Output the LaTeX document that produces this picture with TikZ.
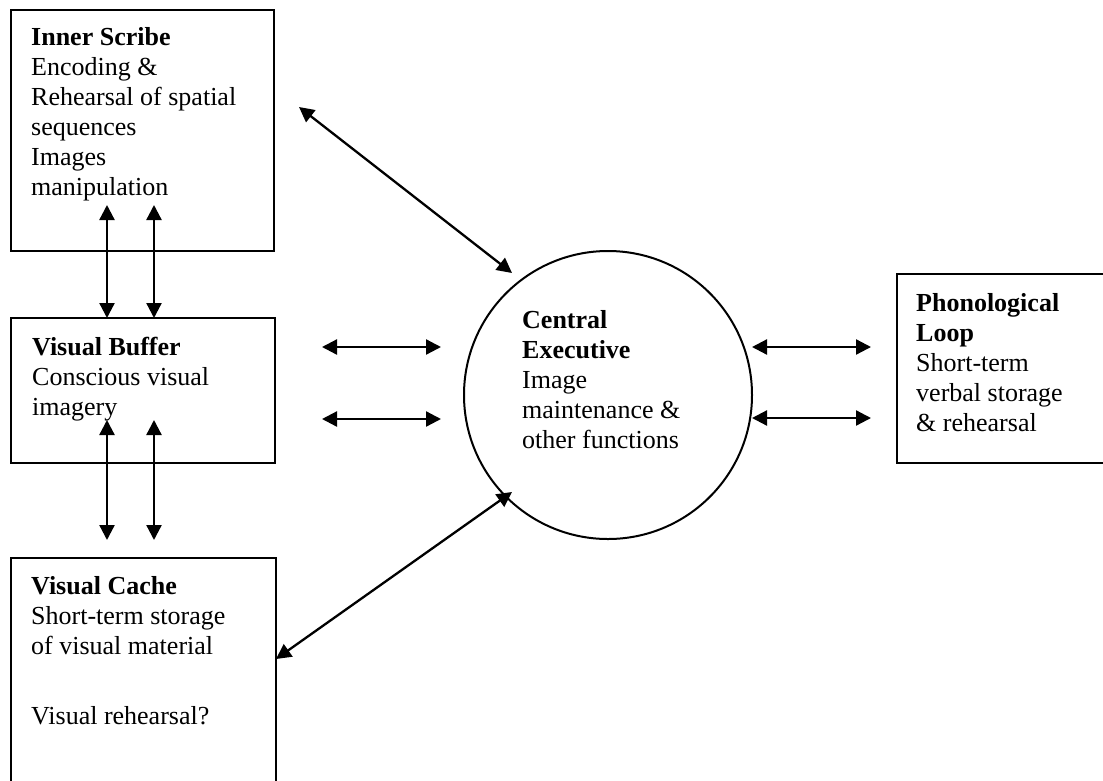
\documentclass[tikz,border=0pt]{standalone}
\usepackage{fontspec}
\setmainfont{Liberation Serif}
\usetikzlibrary{arrows.meta}
\begin{document}
\begin{tikzpicture}[x=1pt,y=-1pt,
  box/.style={draw, line width=2pt, rectangle, inner sep=0pt, anchor=north west},
  % multi-line labels are placed by the baseline of their last line
  label/.style={anchor=base west, align=left, inner sep=0pt,
    font=\fontsize{26}{30}\selectfont},
  arr/.style={line width=2.3pt, {Triangle[length=15pt,width=15pt]}-{Triangle[length=15pt,width=15pt]}}]
  \useasboundingbox (0,0) rectangle (1103,780);
  \clip (0,0) rectangle (1103,780);

  % module boxes
  \node[box, minimum width=263, minimum height=241] (scribe) at (10,9) {};
  \node[box, minimum width=264, minimum height=145] (buffer) at (10,317) {};
  \node[box, minimum width=265, minimum height=240] (cache) at (10,557) {};
  \node[box, minimum width=230, minimum height=189] (phon) at (896,273) {};
  \node[draw, circle, line width=2pt, minimum size=288, inner sep=0pt] (ce) at (608,395) {};

  % texts
  \node[label] (scribetext) at (31,195) {\textbf{Inner Scribe}\\Encoding \&\\Rehearsal of spatial\\sequences\\Images\\manipulation};
  \node[label] (buffertext) at (32,415) {\textbf{Visual Buffer}\\Conscious visual\\imagery};
  \node[label] (cachetext) at (31,654) {\textbf{Visual Cache}\\Short-term storage\\of visual material};
  \node[label] (cachenote) at (31,724) {Visual rehearsal?};
  \node[label] (cetext) at (522,448) {\textbf{Central}\\\textbf{Executive}\\Image\\maintenance \&\\other functions};
  \node[label] (phontext) at (916,431) {\textbf{Phonological}\\\textbf{Loop}\\Short-term\\verbal storage\\\& rehearsal};

  % arrow end points
  \coordinate (sa1) at (107,205);  \coordinate (ba1) at (107,318);
  \coordinate (sa2) at (154,205);  \coordinate (ba2) at (154,318);
  \coordinate (bb1) at (107,420);  \coordinate (ca1) at (107,540);
  \coordinate (bb2) at (154,420);  \coordinate (ca2) at (154,540);
  \coordinate (l1a) at (322,347);  \coordinate (l1b) at (441,347);
  \coordinate (l2a) at (322,419);  \coordinate (l2b) at (441,419);
  \coordinate (r1a) at (752,347);  \coordinate (r1b) at (871,347);
  \coordinate (r2a) at (752,418);  \coordinate (r2b) at (871,418);
  \coordinate (d1a) at (299,107);  \coordinate (d1b) at (512,273);
  \coordinate (d2a) at (276,659);  \coordinate (d2b) at (512,492);

  % connectors
  \draw[arr] (sa1) -- (ba1);
  \draw[arr] (sa2) -- (ba2);
  \draw[arr] (bb1) -- (ca1);
  \draw[arr] (bb2) -- (ca2);
  \draw[arr] (l1a) -- (l1b);
  \draw[arr] (l2a) -- (l2b);
  \draw[arr] (r1a) -- (r1b);
  \draw[arr] (r2a) -- (r2b);
  \draw[arr] (d1a) -- (d1b);
  \draw[arr] (d2a) -- (d2b);
\end{tikzpicture}
\end{document}
